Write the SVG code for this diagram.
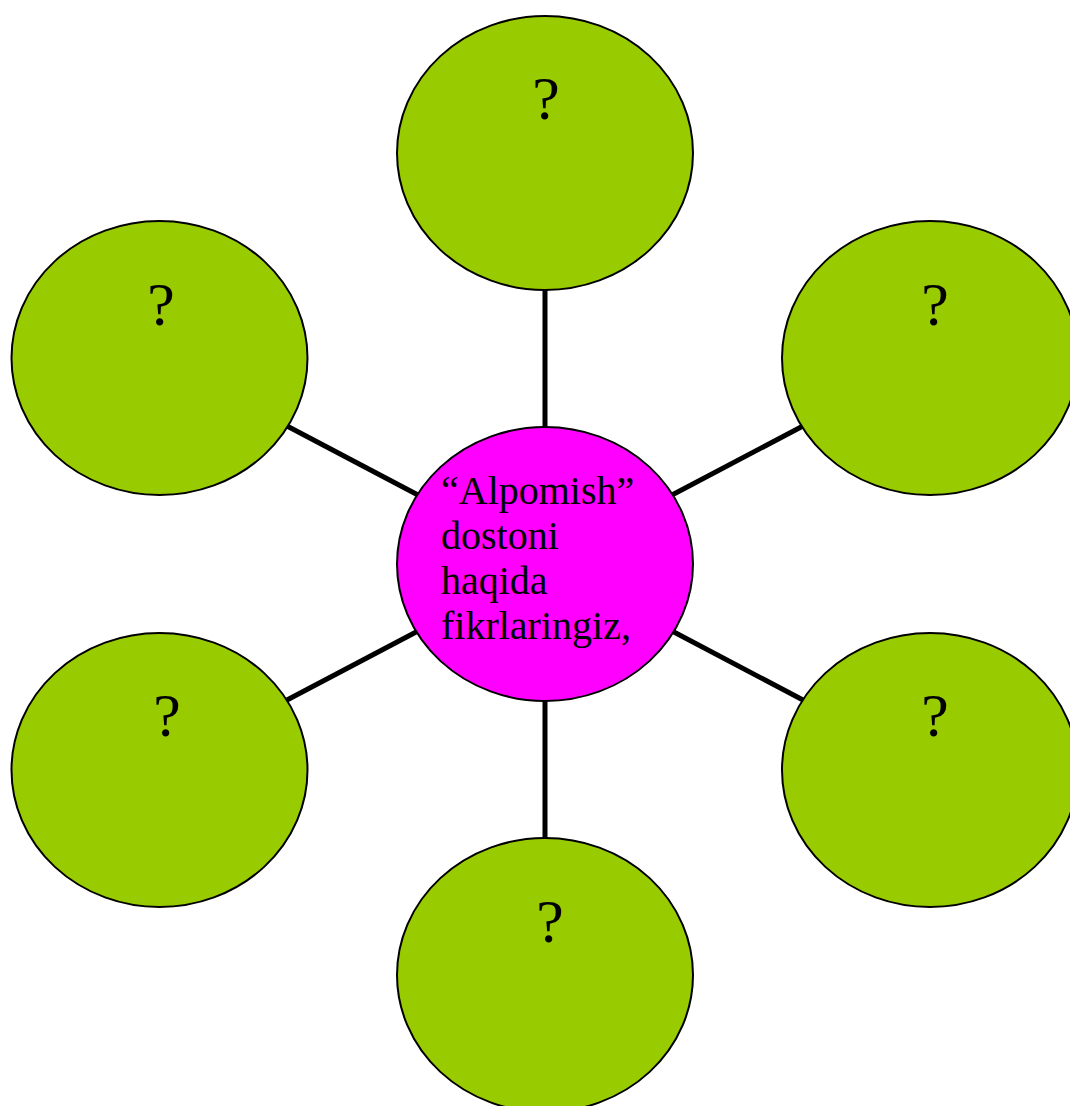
<svg xmlns="http://www.w3.org/2000/svg" width="1070" height="1106" viewBox="0 0 1070 1106">
<style>
.leaf{fill:#99CC00;stroke:#000;stroke-width:2}
.hub{fill:#FF00FF;stroke:#000;stroke-width:2}
.q{font-family:"Liberation Serif",serif;font-size:62px;fill:#000;text-anchor:middle}
.t{font-family:"Liberation Serif",serif;font-size:40px;fill:#000}
.c{stroke:#000;stroke-width:5;fill:none}
</style>
<rect width="1070" height="1106" fill="#fff"/>
<g id="connectors">
<line class="c" x1="545" y1="290" x2="545" y2="428"/>
<line class="c" x1="545" y1="700" x2="545" y2="838"/>
<line class="c" x1="287" y1="426" x2="418" y2="495"/>
<line class="c" x1="672" y1="495" x2="803" y2="426"/>
<line class="c" x1="287" y1="700" x2="418" y2="631"/>
<line class="c" x1="672" y1="631" x2="803" y2="700"/>
</g>
<g id="node-top"><ellipse class="leaf" cx="545" cy="153" rx="148" ry="137"/><text class="q" x="546" y="119">?</text></g>
<g id="node-left-top"><ellipse class="leaf" cx="159.5" cy="358" rx="148" ry="137"/><text class="q" x="161" y="325">?</text></g>
<g id="node-right-top"><ellipse class="leaf" cx="930" cy="358" rx="148" ry="137"/><text class="q" x="935" y="325">?</text></g>
<g id="node-left-bottom"><ellipse class="leaf" cx="159.5" cy="770" rx="148" ry="137"/><text class="q" x="167" y="736">?</text></g>
<g id="node-right-bottom"><ellipse class="leaf" cx="930" cy="770" rx="148" ry="137"/><text class="q" x="935" y="736">?</text></g>
<g id="node-bottom"><ellipse class="leaf" cx="545" cy="975" rx="148" ry="137"/><text class="q" x="550" y="942">?</text></g>
<g id="node-center"><ellipse class="hub" cx="545" cy="564" rx="148" ry="137"/>
<text class="t" x="441"><tspan x="441" y="504">“Alpomish”</tspan><tspan x="441" y="549">dostoni</tspan><tspan x="441" y="594">haqida</tspan><tspan x="441" y="639">fikrlaringiz,</tspan></text></g>
</svg>
